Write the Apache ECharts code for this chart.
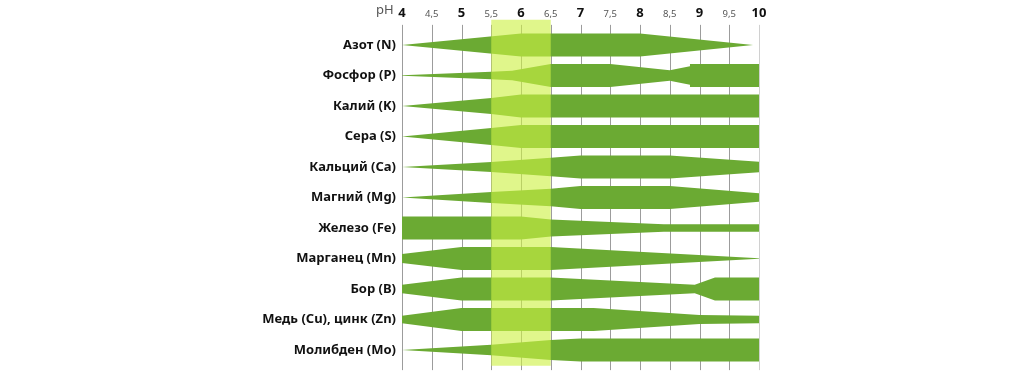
<!DOCTYPE html>
<html>
<head>
<meta charset="utf-8">
<script src="https://cdn.jsdelivr.net/npm/echarts@6/dist/echarts.min.js"></script>
<style>html,body{margin:0;padding:0;background:#fff}#c{width:1024px;height:384px}</style>
</head>
<body>
<div id="c"></div>
<script>
// Categories (top to bottom)
const nutrients = ['Азот (N)', 'Фосфор (P)', 'Калий (K)', 'Сера (S)', 'Кальций (Ca)', 'Магний (Mg)',
  'Железо (Fe)', 'Марганец (Mn)', 'Бор (B)', 'Медь (Cu), цинк (Zn)', 'Молибден (Mo)'];

// Availability profiles: [pH, relative width 0..1]
const nitrogen   = [[4, 0], [6, 1], [8, 1], [9.9, 0]];
const phosphorus = [[4, 0.02], [5.5, 0.33], [5.85, 0.42], [6.5, 1], [7.5, 1], [8.5, 0.45], [8.84, 0.8], [8.84, 1], [10, 1]];
const potassium  = [[4, 0], [5.5, 0.68], [6, 1], [10, 1]];
const sulfur     = [[4, 0], [5.5, 0.73], [6, 1], [10, 1]];
const calcium    = [[4, 0], [5.5, 0.43], [6.5, 0.8], [7, 1], [8.5, 1], [10, 0.45]];
const magnesium  = [[4, 0], [5.5, 0.47], [6.5, 0.76], [7, 1], [8.5, 1], [10, 0.37]];
const iron       = [[4, 1], [6, 1], [6.5, 0.74], [8.4, 0.32], [10, 0.32]];
const manganese  = [[4, 0.38], [5, 1], [6.5, 1], [10, 0.02]];
const boron      = [[4, 0.36], [5, 1], [6.5, 1], [8.92, 0.37], [9.26, 1], [10, 1]];
const copperZinc = [[4, 0.33], [5, 1], [7.22, 1], [9, 0.38], [10, 0.32]];
const molybdenum = [[4, 0], [5.5, 0.46], [6.5, 0.86], [7, 1], [10, 1]];

const profiles = [nitrogen, phosphorus, potassium, sulfur, calcium, magnesium,
  iron, manganese, boron, copperZinc, molybdenum];

// pH ticks
const phTicks = [4, 4.5, 5, 5.5, 6, 6.5, 7, 7.5, 8, 8.5, 9, 9.5, 10];
// optimal range
const optimalRange = [5.5, 6.5];

const GREEN = '#6BAA33';
const HALF = 0.38; // max half-height as fraction of a row

const chart = echarts.init(document.getElementById('c'), null, {renderer: 'canvas'});

function fmtPh(v) {
  const s = String(v).replace('.', ',');
  return Number.isInteger(v) ? '{b|' + s + '}' : '{s|' + s + '}';
}

chart.setOption({
  animation: false,
  backgroundColor: '#ffffff',
  grid: {left: 402, right: 265, top: 29.75, bottom: 18.75},
  graphic: [{
    type: 'text', left: 376, top: 4,
    style: {text: 'pH', fontFamily: 'Noto Sans', fontSize: 13, fill: '#555'}
  }],
  xAxis: {
    type: 'value', position: 'top', min: 4, max: 10, interval: 0.5,
    axisLine: {show: false}, axisTick: {show: false}, splitLine: {show: false},
    axisLabel: {
      margin: 10,
      formatter: fmtPh,
      rich: {
        b: {fontFamily: 'Noto Sans', fontWeight: 'bold', fontSize: 13, color: '#111'},
        s: {fontFamily: 'Noto Sans', fontSize: 9.5, color: '#555'}
      }
    }
  },
  yAxis: {
    type: 'category', data: nutrients, inverse: true,
    axisLine: {show: false}, axisTick: {show: false}, splitLine: {show: false},
    axisLabel: {margin: 6, fontFamily: 'Noto Sans', fontWeight: 'bold', fontSize: 13, color: '#111'}
  },
  series: [
    { // vertical grid lines
      type: 'custom', clip: false, z: 1,
      data: phTicks.map(v => [v]),
      renderItem: function (params, api) {
        const x = api.value(0);
        const band = api.size([0, 1])[1];
        const p0 = api.coord([x, 0]);
        const p1 = api.coord([x, nutrients.length - 1]);
        return {
          type: 'line',
          shape: {x1: Math.round(p0[0]) + 0.5, y1: p0[1] - band * 0.66, x2: Math.round(p0[0]) + 0.5, y2: p1[1] + band * 0.66},
          style: {stroke: x === 10 ? '#d0d0d0' : '#9c9c9c', lineWidth: 1}
        };
      }
    },
    { // availability shapes
      type: 'custom', clip: false, z: 2,
      data: nutrients.map((n, i) => [i]),
      renderItem: function (params, api) {
        const idx = api.value(0);
        const prof = profiles[idx];
        const band = api.size([0, 1])[1];
        const top = [], bot = [];
        prof.forEach(function (p) {
          const c = api.coord([p[0], idx]);
          top.push([c[0], c[1] - p[1] * HALF * band]);
          bot.push([c[0], c[1] + p[1] * HALF * band]);
        });
        return {
          type: 'polygon',
          shape: {points: top.concat(bot.reverse())},
          style: {fill: GREEN}
        };
      }
    },
    { // optimal pH band overlay
      type: 'custom', clip: false, z: 3,
      data: [optimalRange],
      renderItem: function (params, api) {
        const band = api.size([0, 1])[1];
        const a = api.coord([api.value(0), 0]);
        const b = api.coord([api.value(1), nutrients.length - 1]);
        const y0 = a[1] - band * 0.83;
        const y1 = b[1] + band * 0.52;
        return {
          type: 'rect',
          shape: {x: a[0], y: y0, width: b[0] - a[0], height: y1 - y0},
          style: {fill: 'rgba(205,240,68,0.62)'}
        };
      }
    }
  ]
});
</script>
</body>
</html>
